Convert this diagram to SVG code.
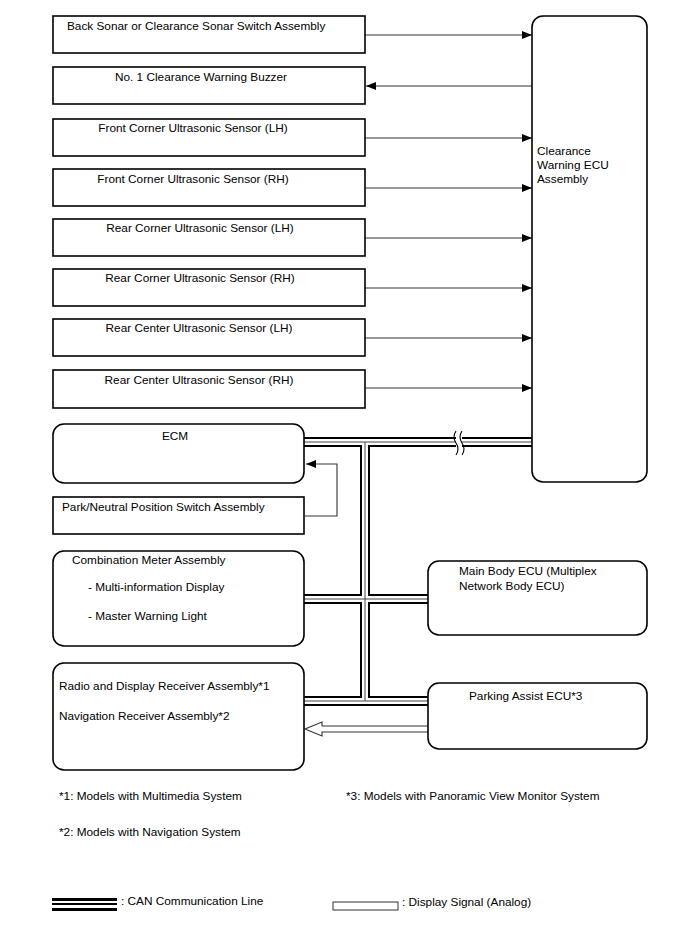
<svg xmlns="http://www.w3.org/2000/svg" width="688" height="949" viewBox="0 0 688 949">
<style>
.box{fill:#fff;stroke:#000;stroke-width:1.6}
.t{font-family:"Liberation Sans",Arial,sans-serif;font-size:11.8px;fill:#000}
.m{text-anchor:middle}
.sig{fill:none;stroke:#333;stroke-width:1.1}
.canO{fill:none;stroke:#000;stroke-width:10}
.canW{fill:none;stroke:#fff;stroke-width:6}
.canC{fill:none;stroke:#444;stroke-width:1}
</style>
<defs>
<marker id="ah" viewBox="0 0 10 8" refX="10" refY="4" markerWidth="10" markerHeight="8" markerUnits="userSpaceOnUse" orient="auto">
<path d="M0,0 L10,4 L0,8 z" fill="#000"/>
</marker>
</defs>
<rect width="688" height="949" fill="#fff"/>

<g id="connectors">
<path class="sig" d="M365,35 H532" marker-end="url(#ah)"/>
<path class="sig" d="M532,86 H366" marker-end="url(#ah)"/>
<path class="sig" d="M365,138 H532" marker-end="url(#ah)"/>
<path class="sig" d="M365,188 H532" marker-end="url(#ah)"/>
<path class="sig" d="M365,238 H532" marker-end="url(#ah)"/>
<path class="sig" d="M365,288 H532" marker-end="url(#ah)"/>
<path class="sig" d="M365,338 H532" marker-end="url(#ah)"/>
<path class="sig" d="M365,388 H532" marker-end="url(#ah)"/>
<path class="sig" d="M305,516 H337 V464 H306" marker-end="url(#ah)"/>
<g id="can">
<path class="canO" d="M304,442 H456 M462,442 H532 M365,442 V701 M304,599 H428 M304,701 H428"/>
<path class="canW" d="M304,442 H456 M462,442 H532 M365,442 V701 M304,599 H428 M304,701 H428"/>
<path class="canC" d="M304,442 H456 M462,442 H532 M365,442 V701 M304,599 H428 M304,701 H428"/>
<path fill="none" stroke="#000" stroke-width="1.1" d="M456,431 q-4,6 0,12 q4,6 0,12 M462,431 q-4,6 0,12 q4,6 0,12"/>
</g>
<path fill="#fff" stroke="#333" stroke-width="1.1" d="M428,726 H322 V722 L305,729 L322,736 V732 H428"/>
</g>

<g id="n1"><rect class="box" x="53" y="16" width="312" height="37"/><text class="t" x="67" y="30">Back Sonar or Clearance Sonar Switch Assembly</text></g>
<g id="n2"><rect class="box" x="53" y="67" width="312" height="37"/><text class="t m" x="201" y="81">No. 1 Clearance Warning Buzzer</text></g>
<g id="n3"><rect class="box" x="53" y="119" width="312" height="37"/><text class="t m" x="193" y="132">Front Corner Ultrasonic Sensor (LH)</text></g>
<g id="n4"><rect class="box" x="53" y="169" width="312" height="37"/><text class="t m" x="193" y="183">Front Corner Ultrasonic Sensor (RH)</text></g>
<g id="n5"><rect class="box" x="53" y="219" width="312" height="37"/><text class="t m" x="200" y="232">Rear Corner Ultrasonic Sensor (LH)</text></g>
<g id="n6"><rect class="box" x="53" y="269" width="312" height="37"/><text class="t m" x="200" y="282">Rear Corner Ultrasonic Sensor (RH)</text></g>
<g id="n7"><rect class="box" x="53" y="319" width="312" height="37"/><text class="t m" x="199" y="332">Rear Center Ultrasonic Sensor (LH)</text></g>
<g id="n8"><rect class="box" x="53" y="370" width="312" height="38"/><text class="t m" x="199" y="384">Rear Center Ultrasonic Sensor (RH)</text></g>

<g id="ecu"><rect class="box" x="532" y="16" width="115" height="466" rx="11"/>
<text class="t" x="537" y="155">Clearance</text><text class="t" x="537" y="169">Warning ECU</text><text class="t" x="537" y="183">Assembly</text></g>

<g id="ecm"><rect class="box" x="53" y="424" width="251" height="59" rx="11"/><text class="t m" x="175" y="440">ECM</text></g>
<g id="pn"><rect class="box" x="53" y="497" width="251" height="37"/><text class="t" x="62" y="511">Park/Neutral Position Switch Assembly</text></g>
<g id="meter"><rect class="box" x="53" y="551" width="251" height="95" rx="11"/>
<text class="t" x="72" y="564">Combination Meter Assembly</text>
<text class="t" x="88" y="591">- Multi-information Display</text>
<text class="t" x="88" y="620">- Master Warning Light</text></g>
<g id="mainbody"><rect class="box" x="428" y="561" width="219" height="74" rx="11"/>
<text class="t" x="459" y="575">Main Body ECU (Multiplex</text><text class="t" x="459" y="590">Network Body ECU)</text></g>
<g id="radio"><rect class="box" x="53" y="663" width="251" height="107" rx="11"/>
<text class="t" x="59" y="690">Radio and Display Receiver Assembly*1</text>
<text class="t" x="59" y="720">Navigation Receiver Assembly*2</text></g>
<g id="pa"><rect class="box" x="428" y="683" width="219" height="66" rx="11"/><text class="t" x="469" y="700">Parking Assist ECU*3</text></g>

<g id="notes">
<text class="t" x="59" y="800">*1: Models with Multimedia System</text>
<text class="t" x="59" y="836">*2: Models with Navigation System</text>
<text class="t" x="346" y="800">*3: Models with Panoramic View Monitor System</text>
</g>
<g id="legend">
<rect x="52" y="898" width="65" height="3" fill="#000"/>
<rect x="52" y="903" width="65" height="2" fill="#000"/>
<rect x="52" y="908" width="65" height="3" fill="#000"/>
<text class="t" x="121" y="905">: CAN Communication Line</text>
<rect x="333" y="902" width="65" height="8" fill="#fff" stroke="#333" stroke-width="1"/>
<text class="t" x="402" y="906">: Display Signal (Analog)</text>
</g>
</svg>
